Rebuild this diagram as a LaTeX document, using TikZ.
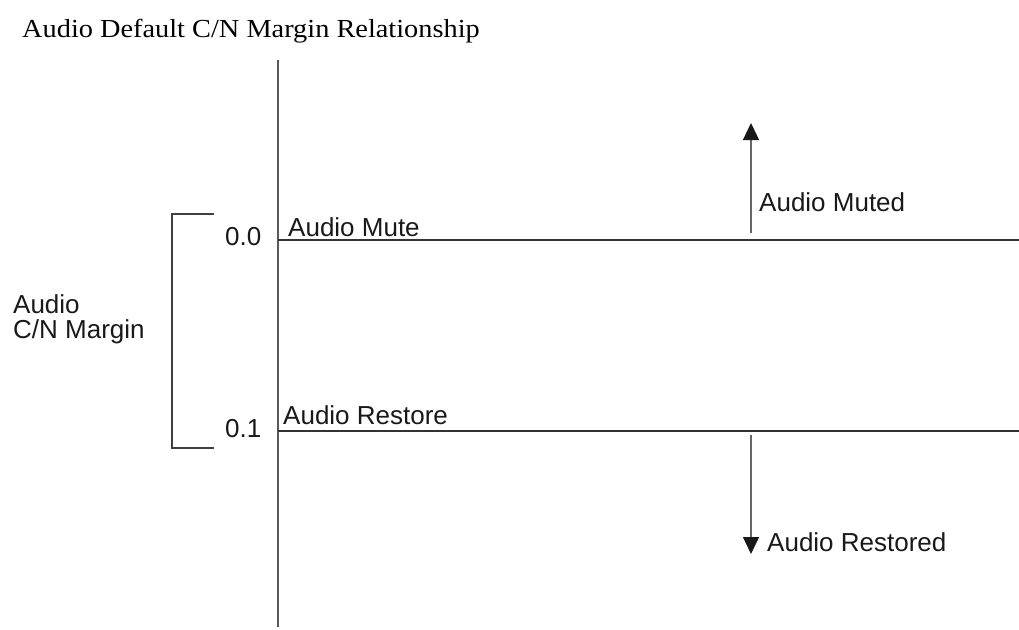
\documentclass[tikz,border=0pt]{standalone}
\usepackage{fontspec}
\setmainfont{Liberation Sans}
\newfontfamily\titlefont[FakeStretch=1.09]{Liberation Serif}
\usetikzlibrary{arrows.meta}
\begin{document}
\begin{tikzpicture}[x=1pt,y=-1pt,
  lbl/.style={font=\fontsize{26}{30}\selectfont, inner sep=0pt, anchor=base west, text=black!90},
  axisline/.style={line width=1.3pt, draw=black!65},
  hline/.style={line width=1.3pt, draw=black!80},
  brk/.style={line width=1.3pt, draw=black!75},
  arr/.style={line width=1.3pt, draw=black!60, -{Triangle[width=16pt,length=17pt,fill=black!90,color=black!90]}}]
\useasboundingbox (0,0) rectangle (1019,629);
% title
\node[inner sep=0pt, anchor=base west, font=\titlefont\fontsize{26}{30}\selectfont] (title) at (22,37) {Audio Default C/N Margin Relationship};
% axis
\coordinate (axTop) at (278,60);
\coordinate (axBot) at (278,627);
\draw[axisline] (axTop) -- (axBot);
% horizontal levels
\coordinate (muteL) at (278,240);
\coordinate (muteR) at (1019,240);
\coordinate (restL) at (278,431);
\coordinate (restR) at (1019,431);
\draw[hline] (muteL) -- (muteR);
\draw[hline] (restL) -- (restR);
% bracket
\coordinate (bTR) at (214,214);
\coordinate (bTL) at (172,214);
\coordinate (bBL) at (172,448);
\coordinate (bBR) at (214,448);
\draw[brk] (bTR) -- (bTL) -- (bBL) -- (bBR);
% labels
\node[lbl] (v0) at (225,245) {0.0};
\node[lbl] (v1) at (225,437) {0.1};
\node[lbl] (mute) at (288,236) {Audio Mute};
\node[lbl] (restore) at (283,424) {Audio Restore};
\node[lbl, align=left, anchor=north west] (margin) at (13,294) {Audio\\[-5pt]C/N Margin};
\node[lbl] (muted) at (759,211) {Audio Muted};
\node[lbl] (restored) at (767,551) {Audio Restored};
% arrows
\coordinate (upS) at (751,233);
\coordinate (upE) at (751,123);
\coordinate (dnS) at (751,435);
\coordinate (dnE) at (751,554);
\draw[arr] (upS) -- (upE);
\draw[arr] (dnS) -- (dnE);
\end{tikzpicture}
\end{document}
